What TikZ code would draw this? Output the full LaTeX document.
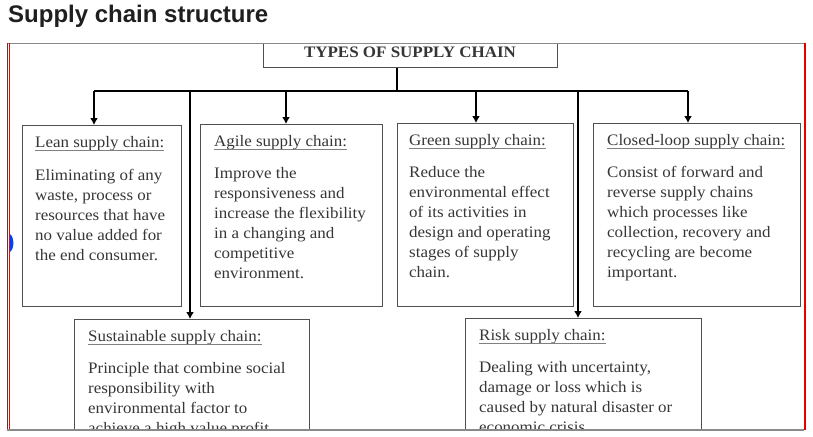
\documentclass[tikz,border=0pt]{standalone}
\usepackage{fontspec}
\setmainfont{Liberation Serif}[FakeStretch=1.06]
\newfontfamily\headfont{Liberation Sans}
\usetikzlibrary{arrows.meta}

\definecolor{bodygray}{HTML}{363636}
\definecolor{boxgray}{HTML}{505050}
\definecolor{framegray}{HTML}{8A8A8A}

\tikzset{
  box/.style={draw=boxgray, line width=1.4pt, anchor=north west, inner sep=0pt},
  conn/.style={draw=black, line width=1.9pt},
  head/.style={anchor=base west, inner sep=0pt, text=bodygray, font=\fontsize{16}{20}\selectfont},
  body/.style={anchor=base west, inner sep=0pt, text=bodygray, font=\fontsize{16}{20}\selectfont},
  uline/.style={draw=gray, line width=0.9pt}
}

\begin{document}
\begin{tikzpicture}[x=1pt, y=-1pt, >={Latex[length=7pt,width=8pt]}]
            \useasboundingbox (0,0) rectangle (813,436);
            % ==== TITLE ====
            \node[anchor=base west, inner sep=0pt, text=black!88, font=\headfont\bfseries\fontsize{24}{28}\selectfont]
                (title) at (8,22.5) {Supply chain structure};

            % ==== TOP BOX ====
            \node[box, minimum width=294, minimum height=24] (types) at (263,43) {};
            \node[anchor=base, inner sep=0pt, text=bodygray, font=\bfseries\fontsize{16}{20}\selectfont]
                (typestext) at (410,57) {TYPES OF SUPPLY CHAIN};

            % ==== FIRST ROW ====
            \node[box, minimum width=159, minimum height=181] (lean) at (22,125) {};
            \node[box, minimum width=182, minimum height=182] (agile) at (200,124) {};
            \node[box, minimum width=176, minimum height=183] (green) at (397,123) {};
            \node[box, minimum width=207, minimum height=183] (closed) at (593,123) {};

            \node[head] (leanhead) at (35,147) {Lean supply chain:};
            \node[head] (agilehead) at (214,146) {Agile supply chain:};
            \node[head] (greenhead) at (409,145) {Green supply chain:};
            \node[head] (closedhead) at (607,145) {Closed-loop supply chain:};

            \foreach \l [count=\i from 0] in {Eliminating of any, {waste, process or}, resources that have,
                no value added for, the end consumer.}
                \node[body] (lean-\i) at (35,{180+20*\i}) {\l};
            \foreach \l [count=\i from 0] in {Improve the, responsiveness and, increase the flexibility,
                in a changing and, competitive, environment.}
                \node[body] (agile-\i) at (214,{178+20*\i}) {\l};
            \foreach \l [count=\i from 0] in {Reduce the, environmental effect, of its activities in,
                design and operating, stages of supply, chain.}
                \node[body] (green-\i) at (409,{177+20*\i}) {\l};
            \foreach \l [count=\i from 0] in {Consist of forward and, reverse supply chains, which processes like,
                {collection, recovery and}, recycling are become, important.}
                \node[body] (closed-\i) at (607,{177+20*\i}) {\l};

            % ==== SECOND ROW (cut by the frame) ====
            \begin{scope}
                \clip (7,43) rectangle (804,429);
                \node[box, minimum width=235, minimum height=130] (sustain) at (74,319) {};
                \node[box, minimum width=236, minimum height=130] (risk) at (465,318) {};
                \node[head] (sustainhead) at (88,341) {Sustainable supply chain:};
                \node[head] (riskhead) at (479,340) {Risk supply chain:};
                \foreach \l [count=\i from 0] in {Principle that combine social, responsibility with,
                    environmental factor to, achieve a high value profit}
                    \node[body] (sustain-\i) at (88,{373+20*\i}) {\l};
                \foreach \l [count=\i from 0] in {{Dealing with uncertainty,}, damage or loss which is,
                    caused by natural disaster or, economic crisis.}
                    \node[body] (risk-\i) at (479,{372+20*\i}) {\l};
            \end{scope}

            % ==== UNDERLINES ====
            \foreach \h in {leanhead, agilehead, greenhead, closedhead, sustainhead, riskhead}
                \draw[uline] ([yshift=-3pt]\h.base west) -- ([yshift=-3pt]\h.base east);

            % ==== CONNECTORS ====
            \coordinate (bus-lean) at (94,91);
            \coordinate (bus-sustain) at (190,91);
            \coordinate (bus-agile) at (286,91);
            \coordinate (bus-top) at (397,91);
            \coordinate (bus-green) at (476,91);
            \coordinate (bus-risk) at (578,91);
            \coordinate (bus-closed) at (688,91);
            \draw[conn] (bus-top |- types.south) -- (bus-top);
            \draw[conn] (bus-lean) -- (bus-closed);
            \draw[conn,->] (bus-lean) -- (bus-lean |- lean.north);
            \draw[conn,->] (bus-agile) -- (bus-agile |- agile.north);
            \draw[conn,->] (bus-green) -- (bus-green |- green.north);
            \draw[conn,->] (bus-closed) -- (bus-closed |- closed.north);
            \draw[conn,->] (bus-sustain) -- (bus-sustain |- sustain.north);
            \draw[conn,->] (bus-risk) -- (bus-risk |- risk.north);

            % ==== FRAME ====
            \draw[framegray, line width=1.6pt] (7,43.5) -- (804,43.5);
            \draw[black!75, line width=1pt] (7.5,43) -- (7.5,430);
            \draw[red, line width=0.9pt] (9.6,43) -- (9.6,429);
            \draw[framegray, line width=2pt] (7,429.5) -- (804,429.5);
            \draw[red!90!black, line width=2pt] (804.5,43) -- (804.5,430);
            \fill[blue!75!cyan] (10,234) .. controls (14.5,237) and (14.5,249) .. (10,252) -- cycle;
         \end{tikzpicture}
\end{document}
